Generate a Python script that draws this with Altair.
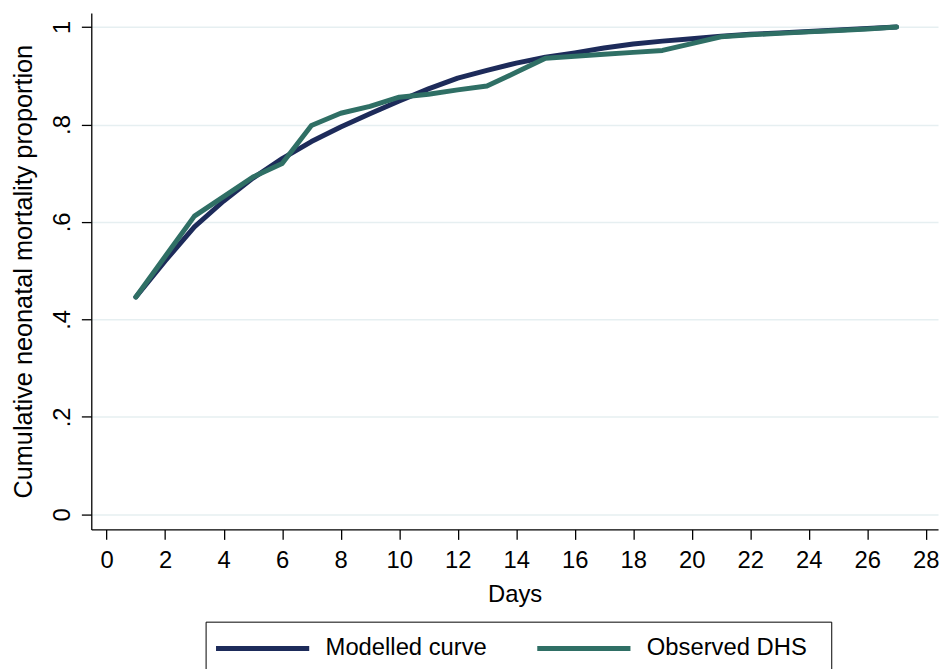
import altair as alt
import pandas as pd

# ---- data ----
days = list(range(1, 28))
modelled = [0.446, 0.520, 0.590, 0.643, 0.690, 0.730, 0.765, 0.795, 0.822,
            0.848, 0.873, 0.895, 0.911, 0.926, 0.938, 0.947, 0.957, 0.965,
            0.971, 0.976, 0.981, 0.985, 0.988, 0.991, 0.994, 0.997, 1.000]
observed = [0.446, 0.529, 0.612, 0.652, 0.692, 0.720, 0.798, 0.823, 0.837,
            0.856, 0.862, 0.871, 0.879, 0.907, 0.936, 0.940, 0.944, 0.948,
            0.952, 0.966, 0.980, 0.984, 0.987, 0.990, 0.993, 0.996, 1.000]
series_names = ["Modelled curve", "Observed DHS"]
series_colors = ["#1d2b5a", "#2f6f65"]
x_ticks = list(range(0, 29, 2))
y_ticks = [0, 0.2, 0.4, 0.6, 0.8, 1.0]

df = pd.DataFrame({
    "Days": days * 2,
    "value": modelled + observed,
    "series": [series_names[0]] * len(days) + [series_names[1]] * len(days),
})

FONT = "Liberation Sans"
FS = 24

x_enc = alt.X(
    "Days:Q",
    scale=alt.Scale(domain=[-0.525, 28.42], nice=False, zero=False),
    axis=alt.Axis(
        values=x_ticks, format="d", title="Days", grid=False,
        labelFontSize=FS, titleFontSize=FS, tickSize=10, labelPadding=9,
        titlePadding=11, domainColor="black", tickColor="black",
        domainWidth=1.3, tickWidth=1.3, labelColor="black", titleColor="black",
        titleFontWeight="normal", labelFlush=False, labelOverlap=False,
    ),
)
y_enc = alt.Y(
    "value:Q",
    scale=alt.Scale(domain=[-0.031, 1.029], nice=False, zero=False),
    axis=alt.Axis(
        values=y_ticks,
        labelExpr="datum.value == 0 ? '0' : (datum.value == 1 ? '1' : replace(format(datum.value, '.1f'), '0.', '.'))",
        title="Cumulative neonatal mortality proportion",
        grid=True, gridColor="#e6eff1", gridWidth=1.5,
        labelFontSize=FS, titleFontSize=25.5, tickSize=10, labelPadding=12,
        labelAngle=270, labelAlign="center", labelBaseline="alphabetic",
        titlePadding=14, domainColor="black", tickColor="black",
        domainWidth=1.3, tickWidth=1.3, labelColor="black", titleColor="black",
        titleFontWeight="normal", labelOverlap=False,
    ),
)
color_enc = alt.Color(
    "series:N",
    scale=alt.Scale(domain=series_names, range=series_colors),
    legend=alt.Legend(
        title=".", titleOrient="right", titleOpacity=0, titleFontSize=8,
        titlePadding=14,
        orient="none", legendX=115.3, legendY=614,
        direction="horizontal", symbolType="stroke", symbolSize=94 * 94,
        symbolStrokeWidth=5, clipHeight=38, labelFontSize=FS, labelOffset=14,
        columnPadding=48, padding=8, strokeColor="black", fillColor="white",
        symbolOffset=0, labelColor="black", labelBaseline="middle",
        labelLimit=400,
    ),
)

base = alt.Chart(df).mark_line(strokeWidth=5, strokeCap="round", strokeJoin="round")

layer_model = base.transform_filter(alt.datum.series == series_names[0]).encode(
    x=x_enc, y=y_enc, color=color_enc)
layer_obs = base.transform_filter(alt.datum.series == series_names[1]).encode(
    x=x_enc, y=y_enc, color=color_enc)

chart = alt.layer(layer_model, layer_obs).properties(
    width=854, height=521,
    autosize=alt.AutoSizeParams(type="none"),
    padding={"left": 84, "top": 2, "right": 4, "bottom": 160},
    background="white",
).configure(font=FONT).configure_view(stroke="transparent")

chart.save("out.html", embed_options={"renderer": "svg", "actions": False})
